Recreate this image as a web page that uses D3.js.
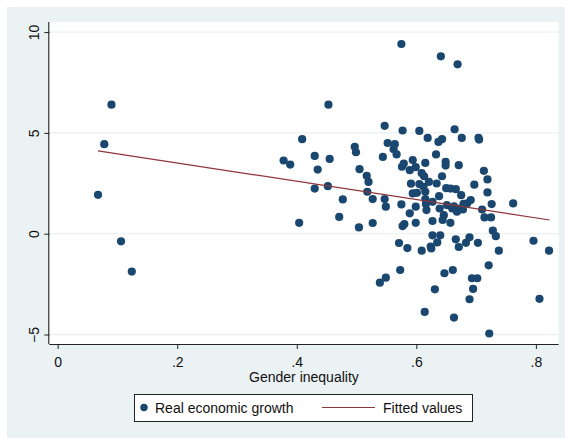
<!DOCTYPE html>
<html>
<head>
<meta charset="utf-8">
<script src="https://cdn.jsdelivr.net/npm/d3@7"></script>
<style>
  body { margin: 0; background: #ffffff; }
  text { font-family: "Liberation Sans", Arial, sans-serif; }
</style>
</head>
<body>
<div id="chart"></div>
<script>
// gender inequality (x) vs real economic growth (y)
let growthX = [0.0675, 0.078, 0.090, 0.106, 0.124, 0.378, 0.389, 0.409, 0.404, 0.430,
    0.435, 0.430, 0.452, 0.453, 0.455, 0.471, 0.477, 0.497, 0.499, 0.505,
    0.504, 0.517, 0.520, 0.518, 0.527, 0.527, 0.539, 0.549, 0.544, 0.547,
    0.547, 0.549, 0.552, 0.562, 0.564, 0.567, 0.571, 0.573, 0.575, 0.575,
    0.577, 0.576, 0.579, 0.577, 0.580, 0.585, 0.589, 0.591, 0.589, 0.594,
    0.594, 0.599, 0.599, 0.599, 0.601, 0.605, 0.605, 0.609, 0.609, 0.613,
    0.615, 0.614, 0.615, 0.615, 0.616, 0.617, 0.619, 0.621, 0.624, 0.625,
    0.627, 0.627, 0.627, 0.631, 0.633, 0.634, 0.635, 0.637, 0.638, 0.639,
    0.641, 0.640, 0.643, 0.643, 0.644, 0.647, 0.646, 0.649, 0.649, 0.650,
    0.651, 0.657, 0.657, 0.660, 0.661, 0.663, 0.664, 0.666, 0.666, 0.668,
    0.669, 0.671, 0.671, 0.673, 0.675, 0.676, 0.678, 0.683, 0.685, 0.689,
    0.689, 0.691, 0.693, 0.695, 0.697, 0.702, 0.703, 0.704, 0.705, 0.710,
    0.713, 0.714, 0.719, 0.719, 0.721, 0.722, 0.725, 0.726, 0.728, 0.733,
    0.738, 0.762, 0.796, 0.806, 0.822, 0.612, 0.679, 0.663];
let growthY = [1.93, 4.44, 6.40, -0.38, -1.88, 3.63, 3.43, 4.69, 0.54, 3.86,
    3.18, 2.24, 2.36, 6.40, 3.71, 0.83, 1.70, 4.31, 4.04, 3.20,
    0.31, 2.87, 2.57, 2.08, 1.72, 0.53, -2.43, -2.18, 3.81, 5.35,
    1.72, 1.34, 4.50, 4.19, 4.44, 3.93, -0.46, -1.80, 1.45, 9.41,
    5.12, 3.32, 3.48, 0.38, 0.48, -0.71, 1.01, 2.48, 3.15, 3.65,
    2.00, 3.30, 0.54, 1.34, 2.03, 5.10, 2.46, -0.84, 3.00, 2.85,
    3.51, -3.88, 2.08, 1.72, 1.47, 1.17, 4.75, 2.57, -0.64, -0.73,
    0.63, -0.08, 1.58, -2.76, 3.93, 2.49, -0.43, 4.55, 1.86, 1.25,
    8.80, -0.08, 2.85, 4.69, 0.68, -1.96, 0.92, 3.56, 3.38, 2.26,
    1.42, 2.24, 0.54, 1.25, -1.80, -4.16, 5.18, 2.21, -0.28, 1.09,
    8.40, 3.40, -0.66, 1.25, 1.91, 4.75, 1.20, -0.45, 1.50, -0.18,
    -3.25, 1.67, -2.21, -2.74, 2.43, -2.21, -0.45, 4.75, 4.67, 1.20,
    3.12, 0.81, 2.69, 2.05, -1.57, -4.95, 0.81, 1.47, 0.15, -0.12,
    -0.84, 1.50, -0.35, -3.23, -0.84, 2.33, 1.48, 1.36];

// fitted values line (ends of the regression line)
let fittedX = [0.0675, 0.823];
let fittedY = [4.11, 0.68];

let xTicks = [0, 0.2, 0.4, 0.6, 0.8];
let xTickLabels = ["0", ".2", ".4", ".6", ".8"];
let yTicks = [-5, 0, 5, 10];
let legendLabels = ["Real economic growth", "Fitted values"];

let width = 565, height = 438;
let plot = {left: 49.3, top: 22, right: 558.6, bottom: 344};

let navy = "#1a476f", maroon = "#90353b", bgColor = "#eaf2f3";

let svg = d3.select("#chart").append("svg")
    .attr("width", width)
    .attr("height", height);

// outer graph region
svg.append("rect")
    .attr("x", 7).attr("y", 7)
    .attr("width", width - 7).attr("height", height - 7)
    .attr("fill", bgColor);

svg.append("rect")
    .attr("x", plot.left).attr("y", plot.top)
    .attr("width", plot.right - plot.left).attr("height", plot.bottom - plot.top)
    .attr("fill", "#ffffff");

let xScale = d3.scaleLinear()
    .domain([-0.014, 0.838])
    .range([plot.left, plot.right]);
let yScale = d3.scaleLinear()
    .domain([-5.47, 10.5])
    .range([plot.bottom, plot.top]);

// horizontal grid
svg.append("g").selectAll("line")
    .data(yTicks)
    .enter().append("line")
    .attr("x1", plot.left).attr("x2", plot.right)
    .attr("y1", d => yScale(d)).attr("y2", d => yScale(d))
    .attr("stroke", bgColor)
    .attr("stroke-width", 1.3);

// axes
let xAxis = svg.append("g")
    .attr("transform", `translate(0,${plot.bottom})`)
    .call(d3.axisBottom(xScale).tickValues(xTicks).tickSize(5).tickPadding(3)
        .tickFormat((d, i) => xTickLabels[i]));
xAxis.select(".domain").attr("d", `M${plot.left},0.5H${plot.right}`);

let yAxis = svg.append("g")
    .attr("transform", `translate(${plot.left},0)`)
    .call(d3.axisLeft(yScale).tickValues(yTicks).tickSize(5).tickFormat(d3.format("d")));
yAxis.select(".domain").attr("d", `M-0.5,${plot.top}V${plot.bottom}`);

svg.selectAll(".domain").attr("stroke", "#222").attr("stroke-width", 1.1);
svg.selectAll(".tick line").attr("stroke", "#222").attr("stroke-width", 1);
svg.selectAll(".tick text").attr("font-size", 14).attr("fill", "#111")
    .attr("font-family", "Liberation Sans, Arial, sans-serif");

// rotate y tick labels like stata does
yAxis.selectAll(".tick text")
    .attr("text-anchor", "middle")
    .attr("x", null).attr("dy", null)
    .attr("transform", "translate(-10.8,0) rotate(-90)");

xAxis.selectAll(".tick text").attr("dy", null).attr("y", 22.5);

svg.append("text")
    .attr("x", (plot.left + plot.right) / 2)
    .attr("y", 382)
    .attr("text-anchor", "middle")
    .attr("font-size", 14)
    .attr("fill", "#111")
    .text("Gender inequality");

// points
let points = growthX.map((x, i) => ({x: x, y: growthY[i]}));
svg.append("g").selectAll("circle")
    .data(points)
    .enter().append("circle")
    .attr("cx", d => xScale(d.x))
    .attr("cy", d => yScale(d.y))
    .attr("r", 4.1)
    .attr("fill", navy);

// fitted line
let fitted = fittedX.map((x, i) => ({x: x, y: fittedY[i]}));
svg.append("path")
    .datum(fitted)
    .attr("d", d3.line().x(d => xScale(d.x)).y(d => yScale(d.y)))
    .attr("fill", "none")
    .attr("stroke", maroon)
    .attr("stroke-width", 1.2);

// legend
let legend = svg.append("g");
legend.append("rect")
    .attr("x", 134.5).attr("y", 394.5)
    .attr("width", 338).attr("height", 27)
    .attr("fill", "#ffffff")
    .attr("stroke", "#222")
    .attr("stroke-width", 1);
legend.append("circle")
    .attr("cx", 144).attr("cy", 407.5).attr("r", 3.7)
    .attr("fill", navy);
legend.append("text")
    .attr("x", 155).attr("y", 413)
    .attr("font-size", 14).attr("fill", "#111")
    .text(legendLabels[0]);
legend.append("line")
    .attr("x1", 322).attr("x2", 375)
    .attr("y1", 407.5).attr("y2", 407.5)
    .attr("stroke", maroon).attr("stroke-width", 1.2);
legend.append("text")
    .attr("x", 383).attr("y", 413)
    .attr("font-size", 14).attr("fill", "#111")
    .text(legendLabels[1]);
</script>
</body>
</html>
